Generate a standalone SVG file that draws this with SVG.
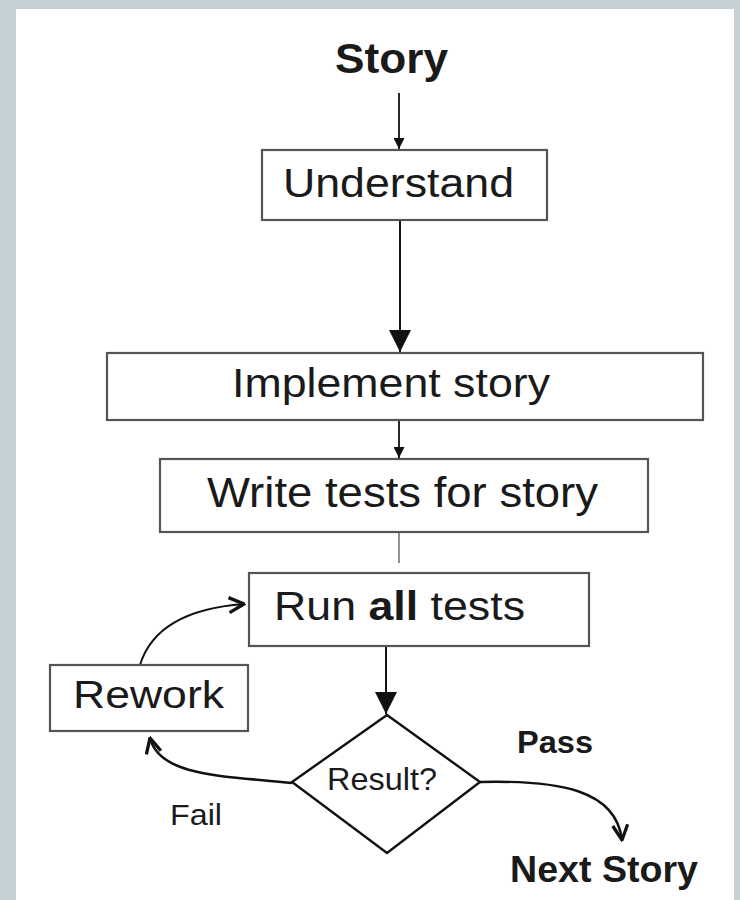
<svg xmlns="http://www.w3.org/2000/svg" width="740" height="900" viewBox="0 0 740 900">
<style>
.box{fill:#fff;stroke:#555;stroke-width:2.2}
.t{font-family:"Liberation Sans",Arial,sans-serif;fill:#1a1a1a}
.b{font-weight:bold}
.ln{fill:none;stroke:#111;stroke-width:2}
</style>
<defs>
<marker id="tri" viewBox="0 0 10 10" refX="10" refY="5" markerWidth="11" markerHeight="11" markerUnits="userSpaceOnUse" orient="auto">
<path d="M0,0 L10,5 L0,10 Z" fill="#111"/>
</marker>
<marker id="triL" viewBox="0 0 10 10" refX="10" refY="5" markerWidth="26" markerHeight="22" markerUnits="userSpaceOnUse" orient="auto">
<path d="M0,0 L10,5 L0,10 Z" fill="#111"/>
</marker>
<marker id="chev" viewBox="0 0 12 12" refX="11" refY="6" markerWidth="18" markerHeight="18" markerUnits="userSpaceOnUse" orient="auto">
<path d="M1,1 L11,6 L1,11" fill="none" stroke="#111" stroke-width="2.2"/>
</marker>
</defs>
<rect x="0" y="0" width="740" height="900" fill="#c5d0d7"/>
<rect x="16" y="9" width="718" height="891" fill="#fff"/>

<g id="connectors">
<line class="ln" x1="399" y1="93" x2="399" y2="149" marker-end="url(#tri)" style="stroke-width:1.8"/>
<line class="ln" x1="400" y1="220" x2="400" y2="352" marker-end="url(#triL)"/>
<line class="ln" x1="399" y1="421" x2="399" y2="458" marker-end="url(#tri)" style="stroke-width:1.8"/>
<line class="ln" x1="399" y1="533" x2="399" y2="563" style="stroke:#777;stroke-width:1.6"/>
<line class="ln" x1="386" y1="646" x2="386" y2="714" marker-end="url(#triL)"/>
<path class="ln" d="M140,665 C152,626 190,608 244,604" marker-end="url(#chev)"/>
<path class="ln" d="M292,783 C230,776 160,778 150,738" marker-end="url(#chev)" style="stroke-width:2.6"/>
<path class="ln" d="M480,782 C560,780 616,790 622,840" marker-end="url(#chev)" style="stroke-width:2.4"/>
</g>

<g id="story"><text class="t b" x="391.5" y="73" font-size="42" text-anchor="middle" textLength="113" lengthAdjust="spacingAndGlyphs">Story</text></g>
<g id="understand">
<rect class="box" x="262" y="150" width="285" height="70"/>
<text class="t" x="398.5" y="197" font-size="41" text-anchor="middle" textLength="231" lengthAdjust="spacingAndGlyphs">Understand</text>
</g>
<g id="implement">
<rect class="box" x="107" y="353" width="596" height="67"/>
<text class="t" x="391" y="397" font-size="41" text-anchor="middle" textLength="318" lengthAdjust="spacingAndGlyphs">Implement story</text>
</g>
<g id="write-tests">
<rect class="box" x="160" y="459" width="488" height="73"/>
<text class="t" x="402.5" y="507" font-size="42" text-anchor="middle" textLength="391" lengthAdjust="spacingAndGlyphs">Write tests for story</text>
</g>
<g id="run-tests">
<rect class="box" x="249" y="573" width="340" height="73"/>
<text class="t" x="399.5" y="620" font-size="40" text-anchor="middle" textLength="251" lengthAdjust="spacingAndGlyphs">Run <tspan class="b">all</tspan> tests</text>
</g>
<g id="rework">
<rect class="box" x="50" y="665" width="198" height="66"/>
<text class="t" x="148.5" y="708" font-size="39" text-anchor="middle" textLength="151" lengthAdjust="spacingAndGlyphs">Rework</text>
</g>
<g id="result">
<polygon points="387,715 480,782 387,853 292,782" fill="#fff" stroke="#111" stroke-width="2.4"/>
<text class="t" x="382" y="790" font-size="32" text-anchor="middle" textLength="110" lengthAdjust="spacingAndGlyphs">Result?</text>
</g>
<g id="labels">
<text class="t b" x="555" y="753" font-size="32" text-anchor="middle" textLength="76" lengthAdjust="spacingAndGlyphs">Pass</text>
<text class="t" x="196" y="825" font-size="30" text-anchor="middle" textLength="52" lengthAdjust="spacingAndGlyphs">Fail</text>
</g>
<g id="next-story"><text class="t b" x="604" y="882" font-size="37" text-anchor="middle" textLength="188" lengthAdjust="spacingAndGlyphs">Next Story</text></g>
</svg>
